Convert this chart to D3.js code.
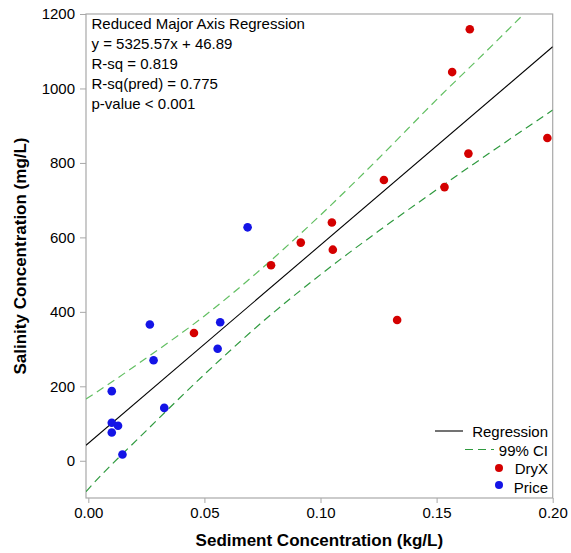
<!DOCTYPE html>
<html>
<head>
<meta charset="utf-8">
<script src="https://cdn.jsdelivr.net/npm/d3@7"></script>
<style>
  html, body { margin: 0; padding: 0; background: #fff; }
  svg { display: block; font-family: Arial, "Liberation Sans", sans-serif; }
</style>
</head>
<body>
<svg id="chart" width="571" height="553"></svg>
<script>
// Sediment (kg/L) vs salinity (mg/L) samples by site
const dryxSediment = [0.0455, 0.0787, 0.0915, 0.1049, 0.1053, 0.1273, 0.1330, 0.1534, 0.1637, 0.1567, 0.1643, 0.1977];
const dryxSalinity = [343, 525, 586, 640, 567, 754, 378, 735, 825, 1044, 1159, 867];
const priceSediment = [0.0101, 0.0101, 0.0128, 0.0101, 0.0147, 0.0265, 0.0281, 0.0327, 0.0557, 0.0568, 0.0686];
const priceSalinity = [187, 102, 94, 76, 17, 366, 270, 142, 301, 372, 627];

// Reduced major axis fit
const slope = 5325.57;
const intercept = 46.89;

// 99% confidence band
const ciX = [-0.001, 0, 0.025, 0.05, 0.075, 0.1, 0.125, 0.15, 0.175, 0.2];
const ciUpper = [166, 170, 276, 389, 518, 660, 812, 970, 1122, 1278];
const ciLower = [-83, -76, 81, 232, 373, 500, 617, 728, 836, 942];

const xTicks = [0, 0.05, 0.10, 0.15, 0.20];
const yTicks = [0, 200, 400, 600, 800, 1000, 1200];

const statsLines = [
  "Reduced Major Axis Regression",
  "y = 5325.57x + 46.89",
  "R-sq = 0.819",
  "R-sq(pred) = 0.775",
  "p-value < 0.001"
];
const legendItems = ["Regression", "99% CI", "DryX", "Price"];

const colors = { dryx: "#d40000", price: "#1414e6", line: "#000", ciUp: "#62bf62", ciLow: "#2f9a3f", frame: "#a8a8a8" };

const svg = d3.select("#chart");
const L = 86, R = 552.7, T = 14, B = 498;

const x = d3.scaleLinear().domain([-0.001, 0.2]).range([L, R]);
const y = d3.scaleLinear().domain([-100, 1200]).range([B, T]);

svg.append("clipPath").attr("id", "clip")
  .append("rect").attr("x", L).attr("y", T).attr("width", R - L).attr("height", B - T);

// axes
const xAxis = svg.append("g").attr("transform", `translate(0,${B})`)
  .call(d3.axisBottom(x).tickValues(xTicks).tickFormat(d3.format(".2f")).tickSize(5).tickPadding(4).tickSizeOuter(0));
const yAxis = svg.append("g").attr("transform", `translate(${L},0)`)
  .call(d3.axisLeft(y).tickValues(yTicks).tickFormat(d3.format("d")).tickSize(6).tickPadding(5).tickSizeOuter(0));
[xAxis, yAxis].forEach(g => {
  g.select(".domain").remove();
  g.selectAll(".tick line").attr("stroke", colors.frame);
  g.selectAll(".tick text").attr("fill", "#000").style("font-size", "15px")
    .style("font-family", "Arial, 'Liberation Sans', sans-serif");
});

// frame
svg.append("rect").attr("x", L).attr("y", T).attr("width", R - L).attr("height", B - T)
  .attr("fill", "none").attr("stroke", colors.frame).attr("stroke-width", 1.2);

const inner = svg.append("g").attr("clip-path", "url(#clip)");

// confidence band
const ciLine = d3.line().curve(d3.curveMonotoneX).x(d => x(d[0])).y(d => y(d[1]));
inner.append("path").datum(ciX.map((v, i) => [v, ciUpper[i]]))
  .attr("d", ciLine).attr("fill", "none").attr("stroke", colors.ciUp)
  .attr("stroke-width", 1.2).attr("stroke-dasharray", "8,5");
inner.append("path").datum(ciX.map((v, i) => [v, ciLower[i]]))
  .attr("d", ciLine).attr("fill", "none").attr("stroke", colors.ciLow)
  .attr("stroke-width", 1.2).attr("stroke-dasharray", "8,5");

// regression line
const xd = x.domain();
inner.append("line")
  .attr("x1", x(xd[0])).attr("y1", y(slope * xd[0] + intercept))
  .attr("x2", x(xd[1])).attr("y2", y(slope * xd[1] + intercept))
  .attr("stroke", colors.line).attr("stroke-width", 1.1);

// points
inner.selectAll(".dryx").data(dryxSediment.map((v, i) => [v, dryxSalinity[i]]))
  .join("circle").attr("class", "dryx")
  .attr("cx", d => x(d[0])).attr("cy", d => y(d[1])).attr("r", 4.3).attr("fill", colors.dryx);
inner.selectAll(".price").data(priceSediment.map((v, i) => [v, priceSalinity[i]]))
  .join("circle").attr("class", "price")
  .attr("cx", d => x(d[0])).attr("cy", d => y(d[1])).attr("r", 4.3).attr("fill", colors.price);

// stats text
svg.append("g").selectAll("text").data(statsLines).join("text")
  .attr("x", 91.5).attr("y", (d, i) => 29 + i * 20)
  .style("font-size", "15px").attr("fill", "#000").text(d => d);

// legend
const lg = svg.append("g");
const lgRight = 548, lgY = [437, 455.5, 474, 492.5];
lg.selectAll("text").data(legendItems).join("text")
  .attr("x", lgRight).attr("y", (d, i) => lgY[i]).attr("text-anchor", "end")
  .style("font-size", "15px").attr("fill", "#000").text(d => d);
lg.append("line").attr("x1", 435).attr("x2", 463).attr("y1", 431).attr("y2", 431)
  .attr("stroke", colors.line).attr("stroke-width", 1.1);
lg.append("line").attr("x1", 465).attr("x2", 494).attr("y1", 449.5).attr("y2", 449.5)
  .attr("stroke", colors.ciLow).attr("stroke-width", 1.2).attr("stroke-dasharray", "8,5");
lg.append("circle").attr("cx", 499).attr("cy", 468).attr("r", 4).attr("fill", colors.dryx);
lg.append("circle").attr("cx", 499).attr("cy", 485).attr("r", 4).attr("fill", colors.price);

// axis titles
svg.append("text").attr("x", (L + R) / 2).attr("y", 546).attr("text-anchor", "middle")
  .style("font-size", "17px").style("font-weight", "bold").text("Sediment Concentration (kg/L)");
svg.append("text").attr("transform", `translate(26,${(T + B) / 2}) rotate(-90)`).attr("text-anchor", "middle")
  .style("font-size", "17px").style("font-weight", "bold").text("Salinity Concentration (mg/L)");
</script>
</body>
</html>
